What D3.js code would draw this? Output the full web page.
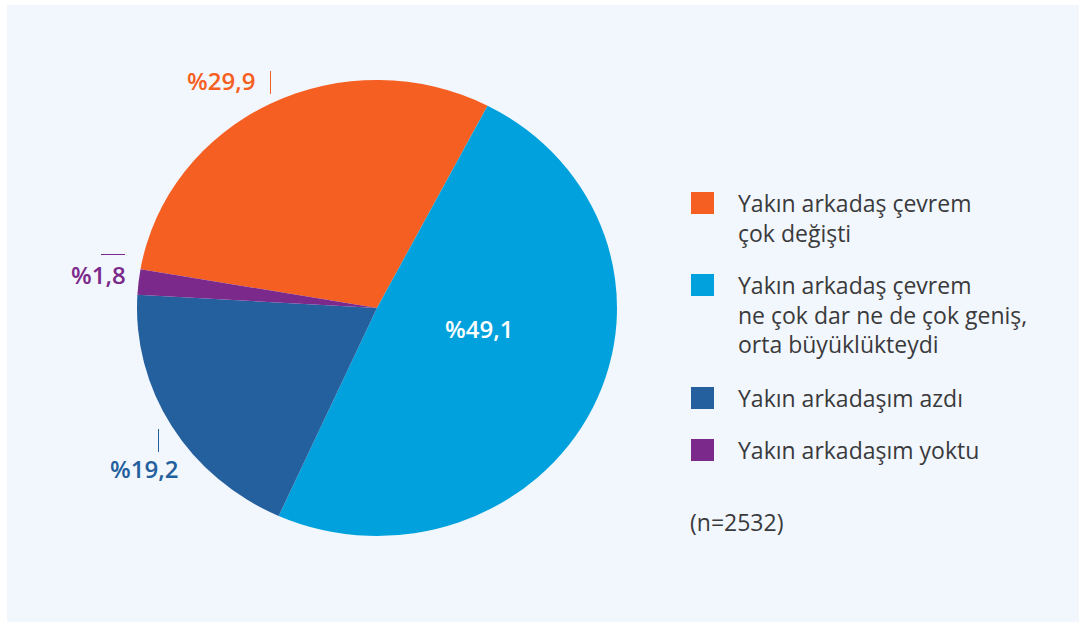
<!DOCTYPE html>
<html>
<head>
<meta charset="utf-8">
<script src="https://cdn.jsdelivr.net/npm/d3@7"></script>
<style>
  html, body { margin: 0; padding: 0; background: #ffffff; }
  svg { display: block; }
  text { font-family: "Open Sans", "Noto Sans", sans-serif; }
</style>
</head>
<body>
<svg id="chart" width="1086" height="626"></svg>
<script>
// Survey answers (n=2532), shares in percent
const categories = [
  "Yakın arkadaş çevrem çok değişti",
  "Yakın arkadaş çevrem ne çok dar ne de çok geniş, orta büyüklükteydi",
  "Yakın arkadaşım azdı",
  "Yakın arkadaşım yoktu"
];
const values = [29.9, 49.1, 19.2, 1.8];
const valueLabels = ["%29,9", "%49,1", "%19,2", "%1,8"];
const legendLines = [
  ["Yakın arkadaş çevrem", "çok değişti"],
  ["Yakın arkadaş çevrem", "ne çok dar ne de çok geniş,", "orta büyüklükteydi"],
  ["Yakın arkadaşım azdı"],
  ["Yakın arkadaşım yoktu"]
];
const sampleNote = "(n=2532)";
const colors = ["#f55f22", "#00a1dc", "#24609e", "#7b2a8b"];

const svg = d3.select("#chart");

// background panel
svg.append("rect")
  .attr("x", 7).attr("y", 5)
  .attr("width", 1072).attr("height", 617)
  .attr("fill", "#f2f7fd");

const cx = 377, cy = 308, r = 240;
const color = d3.scaleOrdinal().domain(categories).range(colors);

const start = -1.40;
const pie = d3.pie()
  .sort(null)
  .value(d => d.value)
  .startAngle(start)
  .endAngle(start + 2 * Math.PI);

const data = categories.map((c, i) => ({ name: c, value: values[i], label: valueLabels[i] }));
const arcs = pie(data);
const arc = d3.arc().innerRadius(0).outerRadius(r);

// pie is drawn slightly flattened vertically
const g = svg.append("g")
  .attr("transform", `translate(${cx},${cy}) scale(1,0.95)`);

g.selectAll("path.slice")
  .data(arcs)
  .join("path")
  .attr("class", "slice")
  .attr("d", arc)
  .attr("fill", d => color(d.data.name));

// value labels
const labelPos = [
  { x: 187, y: 90, fill: colors[0] },
  { x: 445, y: 338, fill: "#ffffff" },
  { x: 110, y: 478, fill: colors[2] },
  { x: 71, y: 284, fill: colors[3] }
];
svg.selectAll("text.value")
  .data(arcs)
  .join("text")
  .attr("class", "value")
  .attr("x", (d, i) => labelPos[i].x)
  .attr("y", (d, i) => labelPos[i].y)
  .attr("fill", (d, i) => labelPos[i].fill)
  .attr("font-size", 24)
  .attr("font-weight", 600)
  .text(d => d.data.label);

// small leader ticks next to the outside labels
svg.append("line").attr("x1", 270.5).attr("x2", 270.5).attr("y1", 71).attr("y2", 94)
  .attr("stroke", colors[0]).attr("stroke-width", 1);
svg.append("line").attr("x1", 101).attr("x2", 125).attr("y1", 254.5).attr("y2", 254.5)
  .attr("stroke", colors[3]).attr("stroke-width", 1);
svg.append("line").attr("x1", 158.5).attr("x2", 158.5).attr("y1", 429).attr("y2", 452)
  .attr("stroke", colors[2]).attr("stroke-width", 1);

// legend
const legendTop = [192, 274, 387, 439];
const legend = svg.append("g");
categories.forEach((c, i) => {
  legend.append("rect")
    .attr("x", 691).attr("y", legendTop[i])
    .attr("width", 23).attr("height", 22)
    .attr("fill", color(c));
  const t = legend.append("text")
    .attr("x", 738).attr("y", legendTop[i] + 20)
    .attr("font-size", 23)
    .attr("fill", "#3a3a3c");
  legendLines[i].forEach((line, j) => {
    t.append("tspan").attr("x", 738).attr("dy", j === 0 ? 0 : 29.5).text(line);
  });
});

svg.append("text")
  .attr("x", 690).attr("y", 531)
  .attr("font-size", 23)
  .attr("fill", "#3a3a3c")
  .text(sampleNote);
</script>
</body>
</html>
